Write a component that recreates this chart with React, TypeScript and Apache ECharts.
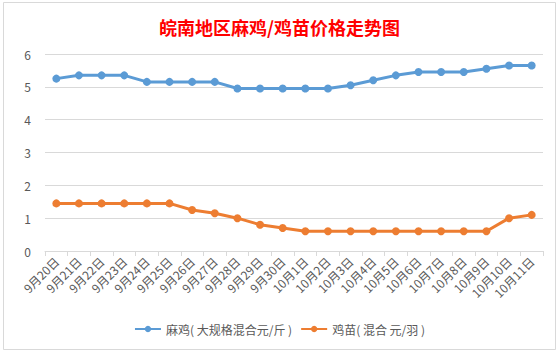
import React, { useEffect, useRef } from "react";
import * as echarts from "echarts";

const categories = [
  "9月20日", "9月21日", "9月22日", "9月23日", "9月24日", "9月25日",
  "9月26日", "9月27日", "9月28日", "9月29日", "9月30日",
  "10月1日", "10月2日", "10月3日", "10月4日", "10月5日", "10月6日",
  "10月7日", "10月8日", "10月9日", "10月10日", "10月11日",
];
const majiValues = [
  5.25, 5.35, 5.35, 5.35, 5.15, 5.15, 5.15, 5.15, 4.95, 4.95, 4.95,
  4.95, 4.95, 5.05, 5.2, 5.35, 5.45, 5.45, 5.45, 5.55, 5.65, 5.65,
];
const jimiaoValues = [
  1.45, 1.45, 1.45, 1.45, 1.45, 1.45, 1.25, 1.15, 1.0, 0.8, 0.7,
  0.6, 0.6, 0.6, 0.6, 0.6, 0.6, 0.6, 0.6, 0.6, 1.0, 1.1,
];
const seriesNames = ["麻鸡( 大规格混合元/斤 )", "鸡苗( 混合 元/羽 )"];
const titleText = "皖南地区麻鸡/鸡苗价格走势图";

export default function App() {
  const ref = useRef<HTMLDivElement>(null);
  useEffect(() => {
    if (!ref.current) return;
    const chart = echarts.init(ref.current, null, { renderer: "svg" });
    const font = "'Noto Sans CJK SC', 'Microsoft YaHei', sans-serif";
    chart.setOption({
      animation: false,
      backgroundColor: "#ffffff",
      textStyle: { fontFamily: font },
      title: {
        text: titleText,
        left: "center",
        top: 13,
        textStyle: { color: "#ff0000", fontSize: 18, fontWeight: "bold", fontFamily: font },
      },
      graphic: [
        {
          type: "rect",
          shape: { x: 3.5, y: 2.5, width: 552, height: 347 },
          style: { fill: "none", stroke: "#d9d9d9", lineWidth: 1 },
          silent: true,
        },
      ],
      legend: {
        bottom: 15,
        left: "center",
        itemWidth: 26,
        itemHeight: 8,
        itemGap: 8,
        textStyle: { color: "#595959", fontSize: 12, fontFamily: font },
        data: seriesNames,
      },
      grid: { left: 45, right: 16, top: 54, bottom: 104, containLabel: false },
      xAxis: {
        type: "category",
        data: categories,
        boundaryGap: true,
        axisLine: { lineStyle: { color: "#d9d9d9" } },
        axisTick: { show: true, length: 5, lineStyle: { color: "#d9d9d9" } },
        axisLabel: { rotate: 45, color: "#595959", fontSize: 12, interval: 0, margin: 8, fontFamily: font },
      },
      yAxis: {
        type: "value",
        min: 0,
        max: 6,
        interval: 1,
        axisLine: { show: false },
        axisTick: { show: false },
        axisLabel: { color: "#595959", fontSize: 12, margin: 14, fontFamily: font },
        splitLine: { lineStyle: { color: "#d9d9d9" } },
      },
      series: [
        {
          name: seriesNames[0],
          type: "line",
          data: majiValues,
          symbol: "circle",
          symbolSize: 8,
          lineStyle: { width: 3, color: "#5b9bd5" },
          itemStyle: { color: "#5b9bd5" },
        },
        {
          name: seriesNames[1],
          type: "line",
          data: jimiaoValues,
          symbol: "circle",
          symbolSize: 8,
          lineStyle: { width: 3, color: "#ed7d31" },
          itemStyle: { color: "#ed7d31" },
        },
      ],
    });
    return () => chart.dispose();
  }, []);
  return (
    <div
      ref={ref}
      style={{ position: "fixed", left: 0, top: 0, width: 559, height: 355 }}
    />
  );
}
